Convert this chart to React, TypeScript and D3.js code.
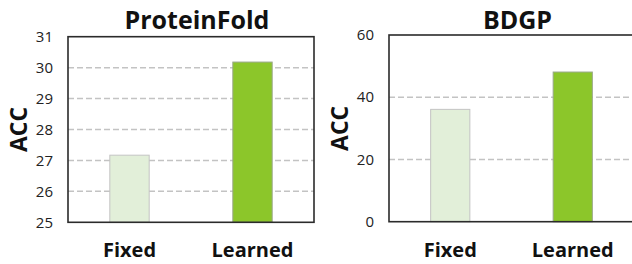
import React from "react";
import {scaleLinear, scaleBand} from "d3";

const categories = ["Fixed", "Learned"];
const proteinFoldValues = [27.17, 30.18];
const proteinFoldTicks = [25, 26, 27, 28, 29, 30, 31];
const bdgpValues = [36.1, 48.1];
const bdgpTicks = [0, 20, 40, 60];
const barColors = ["#e2efd9", "#8cc62a"];
const barStrokes = ["#c4c4c4", "#9aa88a"];

const font = "'Open Sans', 'DejaVu Sans', sans-serif";

function Panel({title, values, ticks, left, right, top, bottom}) {
  const xScale = scaleBand().domain(categories).range([left, right])
    .paddingInner(0.68).paddingOuter(0.34);
  const yScale = scaleLinear()
    .domain([ticks[0], ticks[ticks.length - 1]])
    .range([bottom, top]);

  return (
    <g>
      {/* dashed grid, not on the first / last tick */}
      {ticks.slice(1, -1).map(t => (
        <line key={t} x1={left} x2={right} y1={yScale(t)} y2={yScale(t)}
              stroke="#c3c3c3" strokeWidth={1.5} strokeDasharray="6,3"/>
      ))}
      {values.map((v, i) => (
        <rect key={categories[i]} x={xScale(categories[i])} y={yScale(v)}
              width={xScale.bandwidth()} height={bottom - yScale(v)}
              fill={barColors[i]} stroke={barStrokes[i]} strokeWidth={1}/>
      ))}
      <rect x={left} y={top} width={right - left} height={bottom - top}
            fill="none" stroke="#2b2b2b" strokeWidth={1.6}/>
      {ticks.map(t => (
        <text key={t} x={left - 15} y={yScale(t)} dy="0.35em"
              style={{textAnchor: "end", fontSize: "15px", fontFamily: font}} fill="#222">
          {t}
        </text>
      ))}
      {categories.map(c => (
        <text key={c} x={xScale(c) + xScale.bandwidth() / 2} y={257}
              style={{textAnchor: "middle", fontSize: "20px", fontWeight: "bold", fontFamily: font}}
              fill="#111">
          {c}
        </text>
      ))}
      <text x={(left + right) / 2 + 6} y={29}
            style={{textAnchor: "middle", fontSize: "25px", fontWeight: "bold", fontFamily: font}}
            fill="#111">
        {title}
      </text>
      <text transform={`translate(${left - 49},${(top + bottom) / 2})rotate(-90)`} dy="0.35em"
            style={{textAnchor: "middle", fontSize: "23px", fontWeight: "bold", fontFamily: font}}
            fill="#111">
        ACC
      </text>
    </g>
  );
}

export default function App() {
  return (
    <svg width={632} height={264}
         style={{position: "absolute", left: 0, top: 0, background: "white"}}>
      <Panel title="ProteinFold" values={proteinFoldValues} ticks={proteinFoldTicks}
             left={68} right={314} top={36.7} bottom={222.3}/>
      <Panel title="BDGP" values={bdgpValues} ticks={bdgpTicks}
             left={389} right={634} top={35} bottom={221.7}/>
    </svg>
  );
}
